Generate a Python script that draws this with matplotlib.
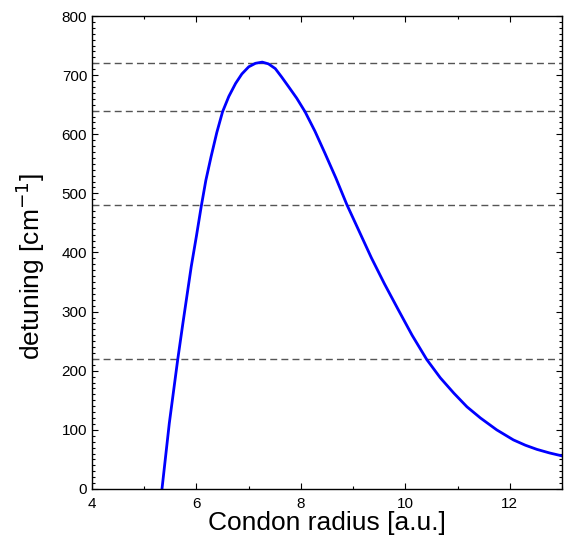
import matplotlib
matplotlib.use("Agg")
import matplotlib.pyplot as plt
from matplotlib.ticker import MultipleLocator

# Curve (Condon radius [a.u.], detuning [cm^-1])
radius = [5.34, 5.48, 5.64, 5.74, 5.90, 6.00, 6.09, 6.18, 6.28, 6.39, 6.50,
          6.62, 6.75, 6.87, 7.00, 7.13, 7.26, 7.38, 7.51, 7.63, 7.76, 7.92,
          8.08, 8.27, 8.46, 8.67, 8.88, 9.11, 9.35, 9.60, 9.86, 10.13, 10.41,
          10.67, 10.93, 11.18, 11.44, 11.75, 12.07, 12.30, 12.52, 12.76, 13.00]
detuning = [0, 111, 218, 280, 376, 428, 477, 522, 562, 603, 638,
            664, 686, 702, 714, 720, 722, 719, 711, 697, 681, 661,
            638, 605, 568, 526, 481, 437, 391, 347, 304, 260, 219,
            188, 162, 139, 120, 100, 83, 74, 67, 61, 56]

# Horizontal reference levels
levels = [220, 480, 640, 720]

plt.rcParams["font.family"] = ["Liberation Sans", "DejaVu Sans"]

fig = plt.figure(figsize=(5.64, 5.38), dpi=100)
ax = fig.add_axes([92 / 564, 49 / 538, 470 / 564, 473 / 538])

for lv in levels:
    ax.axhline(lv, color="#555555", linewidth=1.0, dashes=(5, 3))

ax.plot(radius, detuning, color="#0000ff", linewidth=2.0,
        solid_joinstyle="round")

ax.set_xlim(4, 13)
ax.set_ylim(0, 800)
ax.xaxis.set_major_locator(MultipleLocator(2))
ax.xaxis.set_minor_locator(MultipleLocator(1))
ax.yaxis.set_major_locator(MultipleLocator(100))
ax.yaxis.set_minor_locator(MultipleLocator(10))

ax.tick_params(which="both", direction="in", top=True, right=True,
               labelsize=11, width=0.8)
ax.tick_params(which="major", length=4.5)
ax.tick_params(which="minor", length=2.5)
ax.tick_params(axis="x", pad=6)
for sp in ax.spines.values():
    sp.set_linewidth(1.0)

ax.set_xlabel("Condon radius [a.u.]", fontsize=19, labelpad=0)
ax.set_ylabel("detuning [cm$^{-1}$]", fontsize=19)
ax.yaxis.set_label_coords(-0.095, 0.47)

fig.savefig("out.png", dpi=100)
